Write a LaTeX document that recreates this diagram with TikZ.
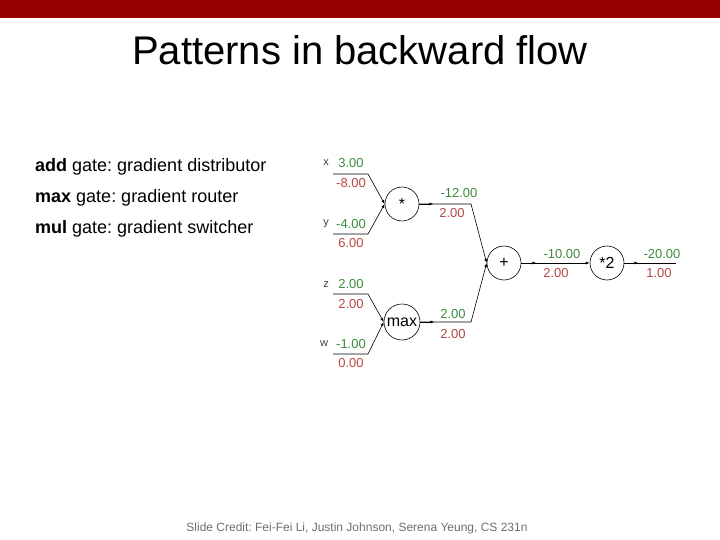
\documentclass[tikz,border=0pt]{standalone}
\usepackage{fontspec}
\setmainfont{Liberation Sans}
\usetikzlibrary{arrows.meta}
\frenchspacing
\definecolor{barred}{RGB}{153,0,0}
\definecolor{fwd}{RGB}{60,140,60}
\definecolor{bwd}{RGB}{180,70,70}
\definecolor{credit}{RGB}{110,110,110}
\tikzset{
  gate/.style={draw, circle, minimum size=34pt, inner sep=0pt, line width=0.6pt, font=\fontsize{16}{16}\selectfont},
  wire/.style={line width=0.6pt},
  tip/.style={-{Latex[length=4pt,width=3pt]}},
  fval/.style={text=fwd, font=\fontsize{13}{13}\selectfont, inner sep=0pt},
  bval/.style={text=bwd, font=\fontsize{13}{13}\selectfont, inner sep=0pt},
  vname/.style={text=black!75, font=\fontsize{11}{11}\selectfont, inner sep=0pt},
  bullet/.style={font=\fontsize{18}{18}\selectfont, anchor=west, inner sep=0pt}
}
\begin{document}
\begin{tikzpicture}[x=1pt,y=-1pt]
\useasboundingbox (0,0) rectangle (720,540);
\fill[barred] (0,0) rectangle (720,18);
\node[font=\fontsize{40}{40}\selectfont, inner sep=0pt] (title) at (360,50) {Patterns in backward flow};
\node[bullet] (b1) at (35,167) {\textbf{add} gate: gradient distributor};
\node[bullet] (b2) at (35,198) {\textbf{max} gate: gradient router};
\node[bullet] (b3) at (35,229) {\textbf{mul} gate: gradient switcher};
% gates
\node[gate] (mul) at (402,204) {*};
\node[gate, minimum size=36pt] (mx) at (402,322) {max};
\node[gate] (add) at (504,263) {+};
\node[gate] (two) at (607,263) {*2};
% input wires
\coordinate (xs) at (333,174); \coordinate (xe) at (368,174);
\coordinate (ys) at (333,234); \coordinate (ye) at (368,234);
\coordinate (zs) at (333,294); \coordinate (ze) at (368,294);
\coordinate (ws) at (333,354); \coordinate (we) at (368,354);
\coordinate (j1) at (471,204); \coordinate (j2) at (471,322);
\coordinate (out) at (676,263);
\draw[wire,tip] (xs) -- (xe) -- (mul.west);
\draw[wire,tip] (ys) -- (ye) -- (mul.west);
\draw[wire,tip] (zs) -- (ze) -- (mx.west);
\draw[wire,tip] (ws) -- (we) -- (mx.west);
\draw[wire,tip] (mul.east) -- ++(14,0);
\draw[wire,tip] (mul.east) -- (j1) -- (add.west);
\draw[wire,tip] (mx.east) -- ++(14,0);
\draw[wire,tip] (mx.east) -- (j2) -- (add.west);
\draw[wire,tip] (add.east) -- ++(15,0);
\draw[wire,tip] (add.east) -- (two.west);
\draw[wire,tip] (two.east) -- ++(14,0);
\draw[wire] (two.east) -- (out);
% names
\node[vname] (nx) at (326,163) {x};
\node[vname] (ny) at (326,224) {y};
\node[vname] (nz) at (326,285) {z};
\node[vname] (nw) at (324,344) {w};
% values
\node[fval] (fx) at (351,163) {3.00};
\node[bval] (gx) at (351,183) {-8.00};
\node[fval] (fy) at (351,224) {-4.00};
\node[bval] (gy) at (351,243) {6.00};
\node[fval] (fz) at (351,284) {2.00};
\node[bval] (gz) at (351,304) {2.00};
\node[fval] (fw) at (351,344) {-1.00};
\node[bval] (gw) at (351,363) {0.00};
\node[fval] (fm) at (459,193) {-12.00};
\node[bval] (gm) at (452,213) {2.00};
\node[fval] (fmx) at (453,314) {2.00};
\node[bval] (gmx) at (453,334) {2.00};
\node[fval] (fa) at (562,254) {-10.00};
\node[bval] (ga) at (556,273) {2.00};
\node[fval] (ft) at (662,254) {-20.00};
\node[bval] (gt) at (659,273) {1.00};
\node[text=credit, font=\fontsize{12}{12}\selectfont, inner sep=0pt] (cred) at (357,528) {Slide Credit: Fei-Fei Li, Justin Johnson, Serena Yeung, CS 231n};
\end{tikzpicture}
\end{document}
